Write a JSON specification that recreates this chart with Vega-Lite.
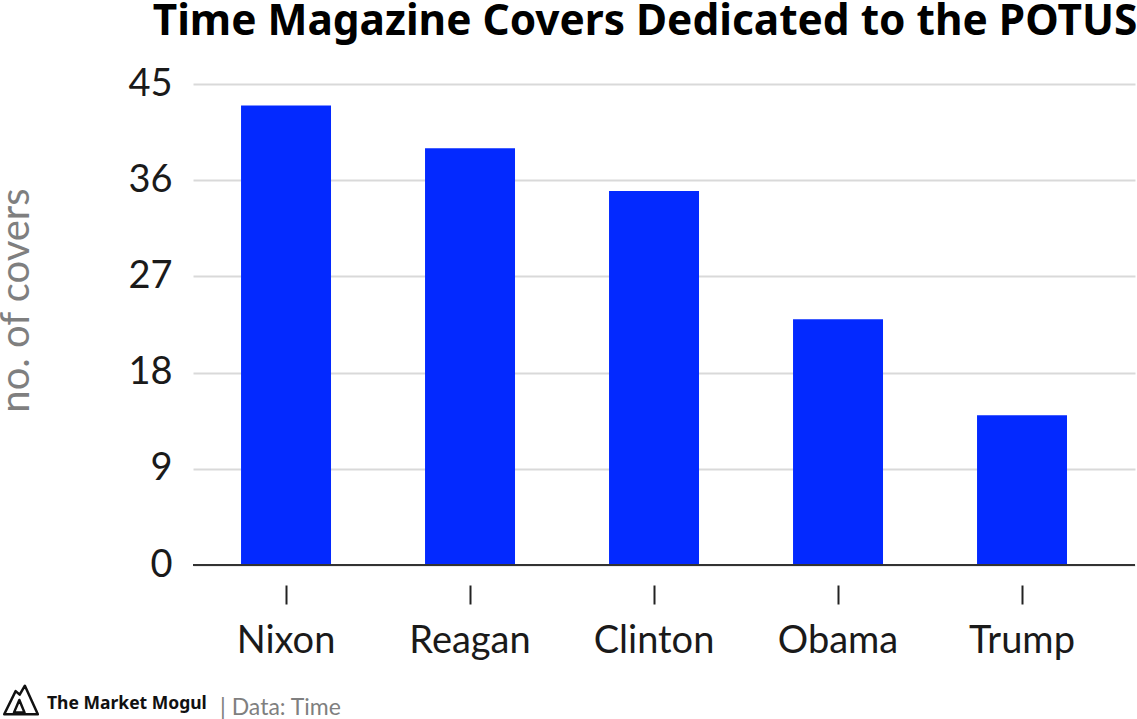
{
  "$schema": "https://vega.github.io/schema/vega-lite/v6.json",
  "width": 942, "height": 481,
  "autosize": {"type": "none"},
  "padding": {"left": 193, "top": 84, "right": 2, "bottom": 154},
  "background": "white",
  "title": {
    "text": "Time Magazine Covers Dedicated to the POTUS",
    "font": "Noto Sans", "fontSize": 42.4, "fontWeight": "bold", "color": "#000000",
    "anchor": "middle", "dx": -19, "offset": 21
  },
  "datasets": {
    "covers": [
      {"president": "Nixon", "covers": 43},
      {"president": "Reagan", "covers": 39},
      {"president": "Clinton", "covers": 35},
      {"president": "Obama", "covers": 23},
      {"president": "Trump", "covers": 14}
    ],
    "logo": [{"anchor": "Nixon", "level": -12.6}],
    "brand": [{"anchor": "Nixon", "level": -13, "text": "The Market Mogul"}],
    "source": [{"anchor": "Nixon", "level": -13.4, "text": "| Data: Time"}]
  },
  "layer": [
    {
      "data": {"name": "covers"},
      "mark": {"type": "bar", "color": "#0329ff"},
      "encoding": {
        "x": {
          "field": "president", "type": "nominal", "sort": null,
          "scale": {"paddingInner": 0.511, "paddingOuter": 0.3153, "align": 0.414},
          "axis": {
            "title": null, "domain": false, "grid": false, "labelAngle": 0,
            "offset": 20, "tickSize": 19, "tickColor": "#222222", "tickWidth": 2,
            "labelFont": "Lato", "labelFontSize": 38, "labelColor": "#1a1a1a", "labelPadding": 18
          }
        },
        "y": {
          "field": "covers", "type": "quantitative",
          "scale": {"domain": [0, 45]},
          "axis": {
            "title": "no. of covers", "values": [0, 9, 18, 27, 36, 45],
            "domain": false, "ticks": false,
            "gridColor": "#d9d9d9", "gridWidth": 2,
            "labelFont": "Lato", "labelFontSize": 38, "labelColor": "#1a1a1a", "labelPadding": 21,
            "titleFont": "Lato", "titleFontSize": 40, "titleFontWeight": "normal", "titleColor": "#7f7f7f",
            "titlePadding": 91, "titleY": 216
          }
        }
      }
    },
    {
      "data": {"name": "covers"},
      "mark": {"type": "rule", "color": "#333333", "strokeWidth": 2},
      "encoding": {"y": {"datum": 0}}
    },
    {
      "data": {"name": "logo"},
      "mark": {"type": "point", "filled": false, "stroke": "#111111", "strokeWidth": 2.5, "strokeJoin": "round", "size": 1130, "xOffset": -265, "opacity": 1,
        "shape": "M-1 0.87 L-0.32 -0.51 L-0.08 -0.3 L0.23 -0.83 L1 0.87 Z M-0.42 0.77 L-0.1 0.02 L0.21 0.77 Z"},
      "encoding": {
        "x": {"field": "anchor", "type": "nominal", "sort": null},
        "y": {"field": "level", "type": "quantitative"}
      }
    },
    {
      "data": {"name": "brand"},
      "mark": {"type": "text", "align": "left", "font": "Noto Sans", "fontSize": 17.5, "fontWeight": "bold", "color": "#111111", "dx": -239},
      "encoding": {
        "x": {"field": "anchor", "type": "nominal", "sort": null},
        "y": {"field": "level", "type": "quantitative"},
        "text": {"field": "text"}
      }
    },
    {
      "data": {"name": "source"},
      "mark": {"type": "text", "align": "left", "font": "Lato", "fontSize": 23, "color": "#7f7f7f", "dx": -66},
      "encoding": {
        "x": {"field": "anchor", "type": "nominal", "sort": null},
        "y": {"field": "level", "type": "quantitative"},
        "text": {"field": "text"}
      }
    }
  ],
  "config": {"view": {"stroke": null}}
}
